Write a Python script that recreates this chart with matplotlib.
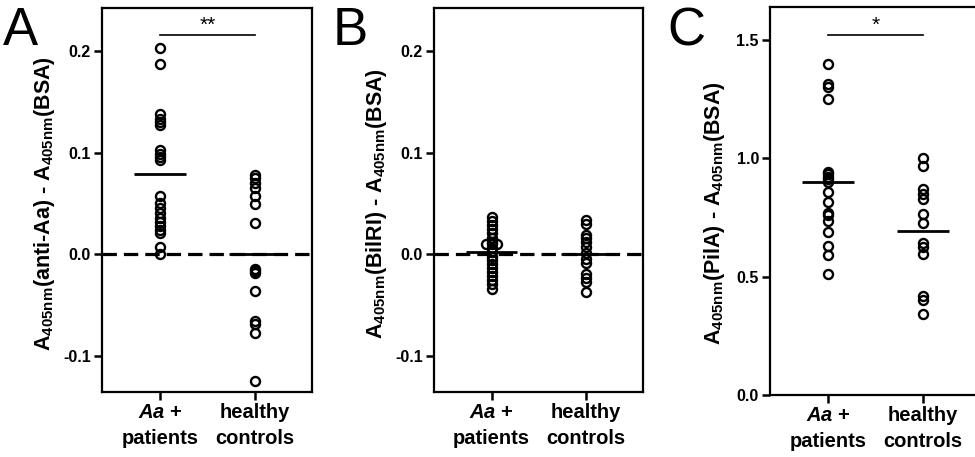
import numpy as np
import matplotlib
matplotlib.use("Agg")
import matplotlib.pyplot as plt

plt.rcParams["font.family"] = ["Liberation Sans", "DejaVu Sans"]
plt.rcParams["font.weight"] = "bold"
plt.rcParams["mathtext.fontset"] = "custom"
plt.rcParams["mathtext.rm"] = "Liberation Sans:bold"
plt.rcParams["mathtext.bf"] = "Liberation Sans:bold"
plt.rcParams["mathtext.it"] = "Liberation Sans:italic:bold"
plt.rcParams["mathtext.default"] = "rm"

# data
categories = ["$\\mathit{Aa}$ +\npatients", "healthy\ncontrols"]

anti_aa_patients = [0.203, 0.187, 0.138, 0.133, 0.130, 0.127, 0.103, 0.099, 0.096, 0.093,
                    0.057, 0.051, 0.046, 0.041, 0.036, 0.032, 0.028, 0.024, 0.021, 0.007, 0.000]
anti_aa_controls = [0.078, 0.075, 0.070, 0.065, 0.057, 0.050, 0.031,
                    -0.014, -0.016, -0.018, -0.036, -0.065, -0.068, -0.077, -0.124]

bilri_patients = [0.037, 0.033, 0.029, 0.025, 0.021, 0.016, 0.012, 0.010, 0.010, 0.010, 0.006,
                  0.002, -0.002, -0.005, -0.009, -0.013, -0.017, -0.021, -0.025, -0.029, -0.034]
bilri_controls = [0.034, 0.030, 0.019, 0.016, 0.012, 0.007, 0.001,
                  -0.004, -0.008, -0.019, -0.023, -0.027, -0.037]

pila_patients = [1.398, 1.314, 1.300, 1.253, 0.943, 0.934, 0.922, 0.911, 0.901, 0.859,
                 0.817, 0.770, 0.760, 0.736, 0.687, 0.631, 0.591, 0.511]
pila_controls = [1.000, 0.967, 0.869, 0.849, 0.827, 0.765, 0.728,
                 0.641, 0.627, 0.596, 0.418, 0.401, 0.342]

W, H = 975, 457
fig = plt.figure(figsize=(W / 100, H / 100), dpi=100)


def px_axes(left, right, top, bottom):
    return fig.add_axes([left / W, 1 - bottom / H, (right - left) / W, (bottom - top) / H])


def spread(vals, tol, step):
    # simple side-by-side placement for (near) identical values
    offs = []
    pattern = [0, 1, -1, 2, -2]
    for i, v in enumerate(vals):
        k = sum(1 for p in vals[:i] if abs(p - v) < tol)
        offs.append(pattern[k % len(pattern)] * step)
    return np.array(offs)


def draw_panel(ax, groups, ylim, yticks, ylabel, tol, zero_line, label_x):
    for i, vals in enumerate(groups):
        vals = np.asarray(vals)
        x = i + spread(list(vals), tol, 0.055)
        ax.plot(x, vals, "o", ms=6.5, mfc="none", mec="black", mew=1.7, zorder=3)
        ax.hlines(np.mean(vals), i - 0.27, i + 0.27, color="black", lw=2.0, zorder=4)
    if zero_line:
        ax.axhline(0, color="black", lw=2.3, ls=(0, (4.5, 2.2)), zorder=2)
    ax.set_xlim(-0.61, 1.6)
    ax.set_ylim(*ylim)
    ax.set_xticks([0, 1])
    ax.set_xticklabels(categories, fontsize=14.5, fontweight="bold", linespacing=1.45)
    ax.set_yticks(yticks)
    ax.set_yticklabels(["%.1f" % t for t in yticks], fontsize=11.5, fontweight="bold")
    ax.tick_params(direction="out", length=6, width=1.8, pad=2)
    for s in ax.spines.values():
        s.set_linewidth(1.6)
    ax.set_ylabel(ylabel, fontsize=15.5, fontweight="bold")
    ax.yaxis.set_label_coords(label_x, 0.49)


def sig_bar(ax, y, text):
    ax.plot([0, 1], [y, y], color="black", lw=1.2)
    ax.text(0.5, y, text, ha="center", va="bottom", fontsize=15, fontweight="normal")


axA = px_axes(102, 312, 8, 392)
draw_panel(axA, [anti_aa_patients, anti_aa_controls], (-0.135, 0.242), [-0.1, 0.0, 0.1, 0.2],
           "A$_{405nm}$(anti-Aa) - A$_{405nm}$(BSA)", 0.0005, True, -0.215)
sig_bar(axA, 0.2154, "**")

axB = px_axes(434, 643, 8, 392)
draw_panel(axB, [bilri_patients, bilri_controls], (-0.135, 0.242), [-0.1, 0.0, 0.1, 0.2],
           "A$_{405nm}$(BilRI) - A$_{405nm}$(BSA)", 0.0005, True, -0.215)

axC = px_axes(770, 980, 7, 395)
draw_panel(axC, [pila_patients, pila_controls], (0.0, 1.64), [0.0, 0.5, 1.0, 1.5],
           "A$_{405nm}$(PilA) - A$_{405nm}$(BSA)", 0.005, False, -0.205)
axC.yaxis.set_label_coords(-0.205, 0.47)
sig_bar(axC, 1.521, "*")

for letter, xpx in [("A", 3), ("B", 333), ("C", 667)]:
    fig.text(xpx / W, 1 - 6 / H, letter, fontsize=38, fontweight="normal", va="top", ha="left")

fig.savefig("out.png", dpi=100)
